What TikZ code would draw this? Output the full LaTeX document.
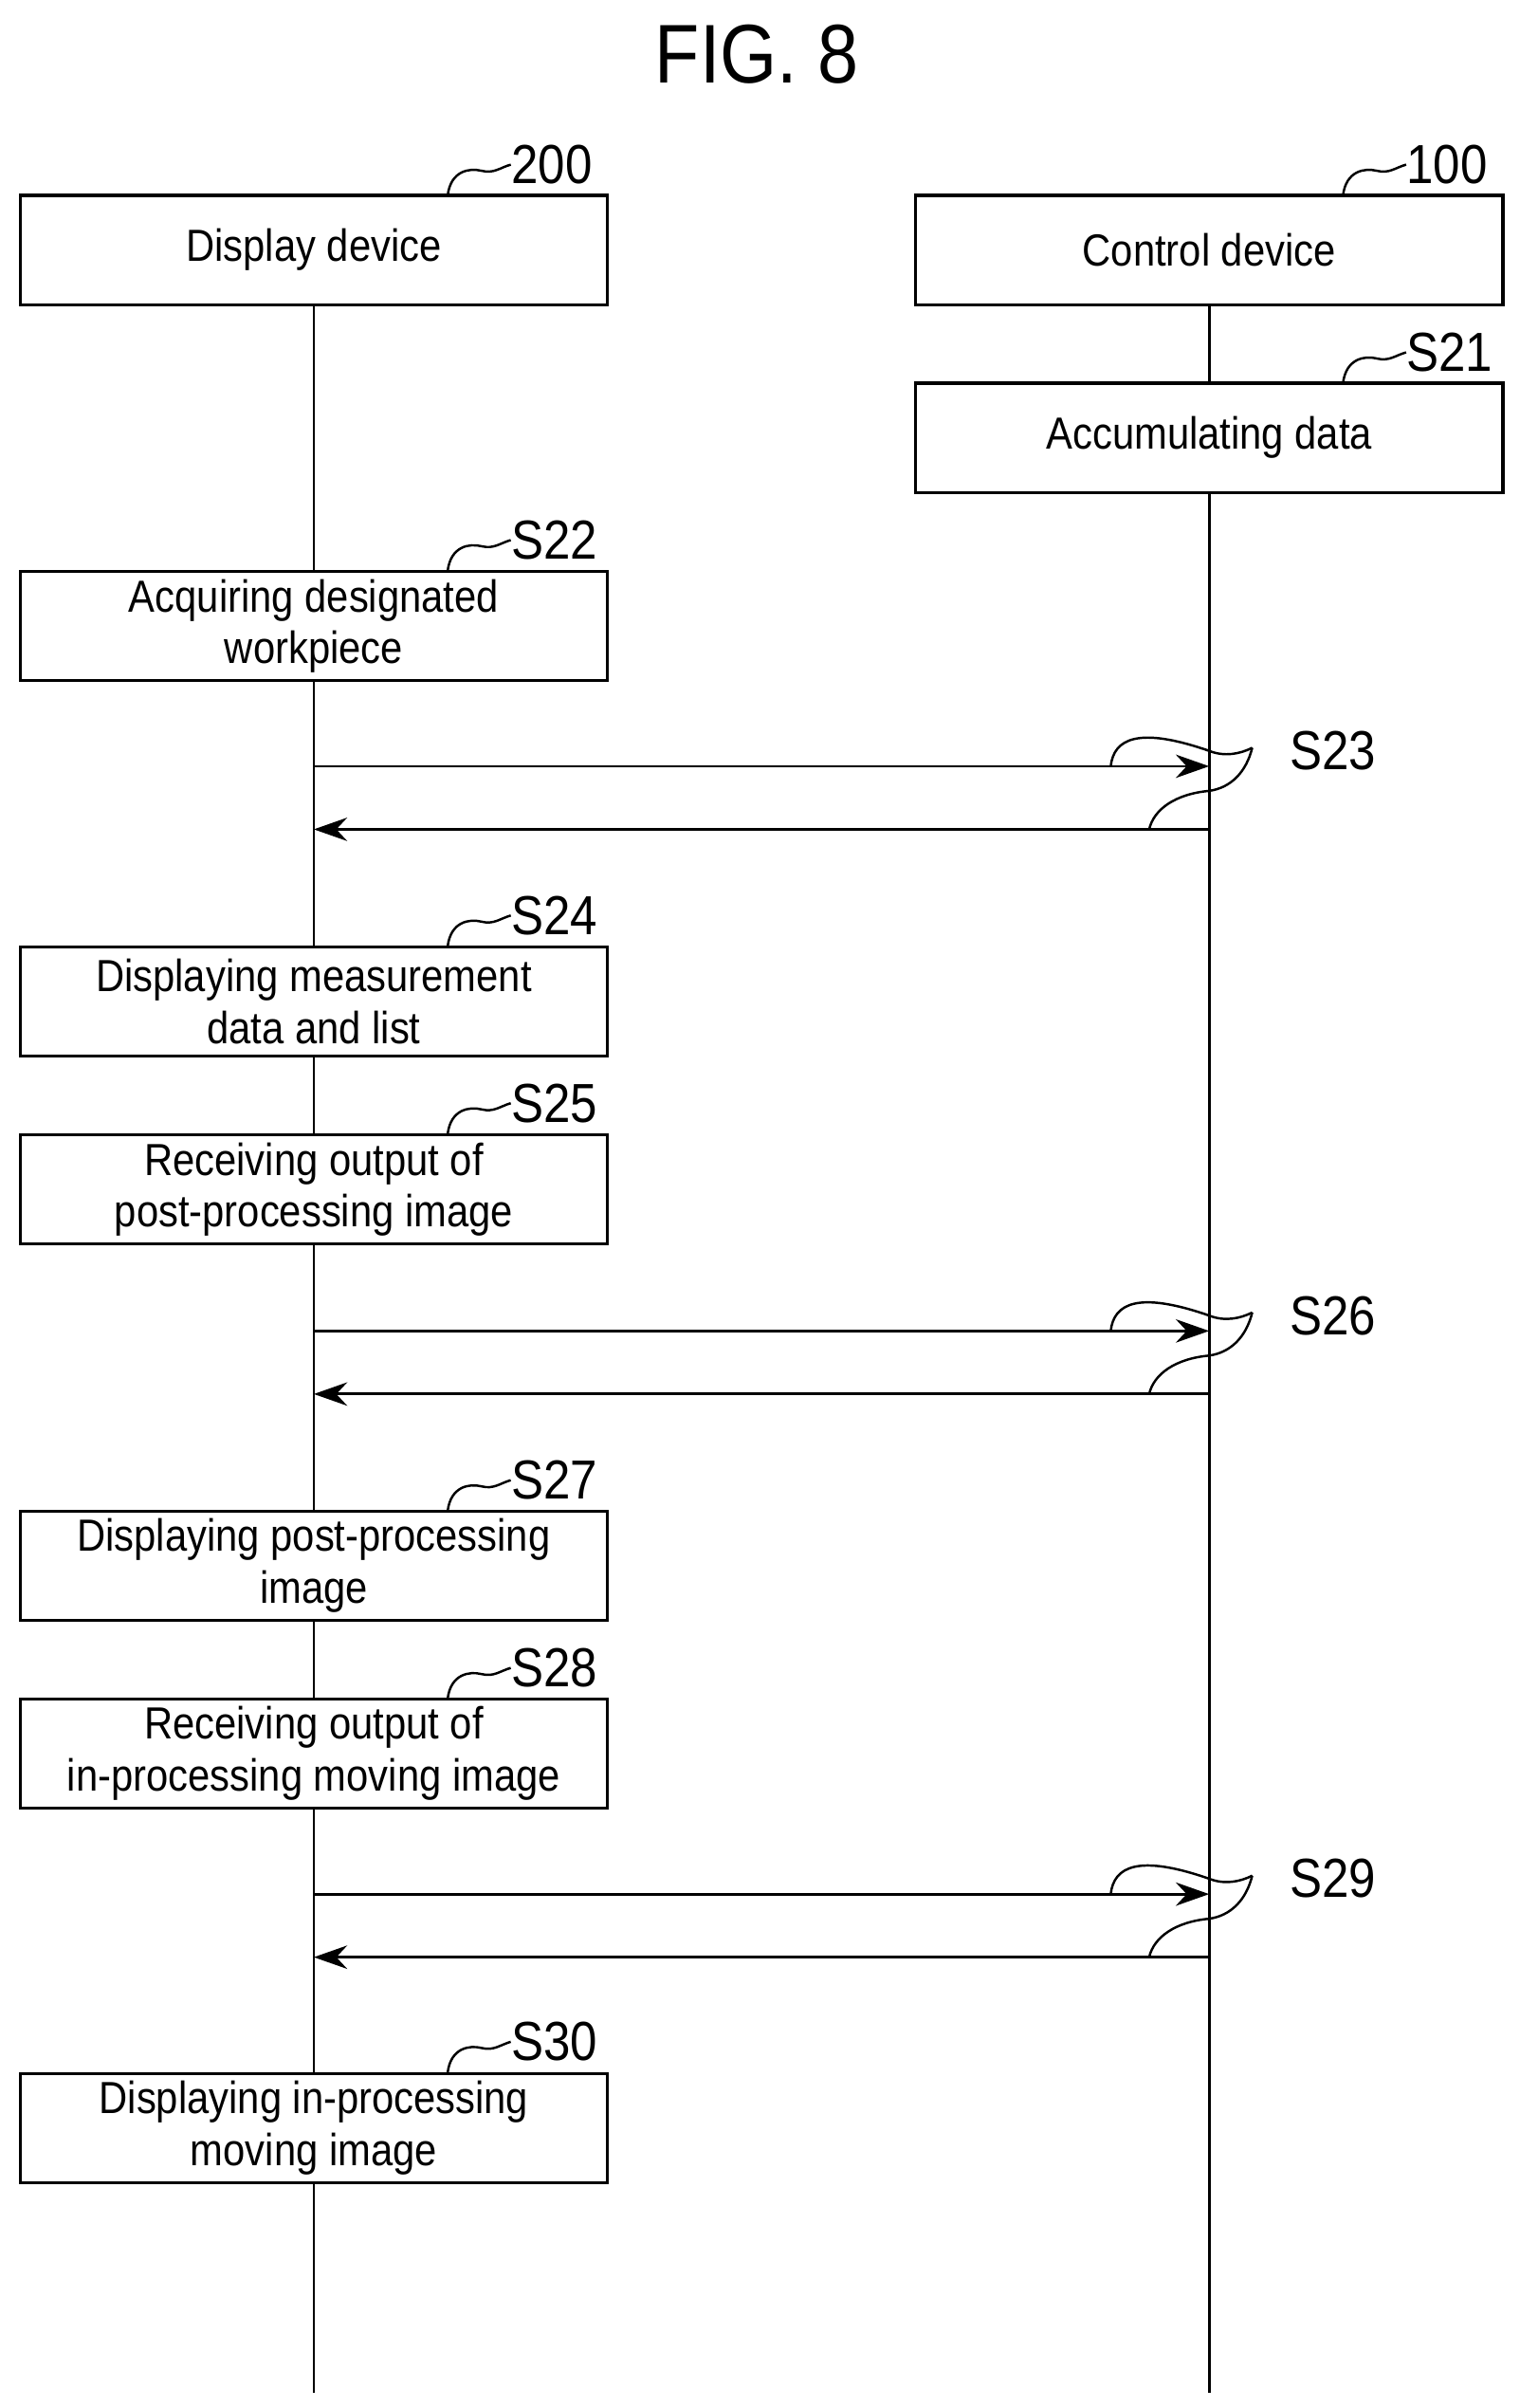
\documentclass[tikz,border=0pt]{standalone}
\usepackage{fontspec}
\setmainfont{Liberation Sans}[FakeStretch=0.88]
\usetikzlibrary{arrows.meta}
\begin{document}
\begin{tikzpicture}[x=0.1622mm,y=-0.1622mm,
  box/.style={draw,line width=0.9pt,minimum width=382*0.1622mm,minimum height=71*0.1622mm,inner sep=0pt,align=center,font=\fontsize{13.5}{15.5}\selectfont},
  lbl/.style={anchor=west,inner sep=0pt,font=\fontsize{16.5}{18}\selectfont},
  life/.style={line width=0.8pt},
  msg/.style={line width=0.8pt,-{Stealth[length=10pt,width=7pt]}},
  lead/.style={line width=0.7pt}]
\useasboundingbox (0,0) rectangle (988,1565);
\node[font=\fontsize{25}{28}\selectfont] (title) at (492,35) {FIG. 8};
\node[box] (dd) at (204,162.5) {Display device};
\node[box] (cd) at (786,162.5) {Control device};
\node[box] (s21) at (786,284.5) {Accumulating data};
\node[box] (s22) at (204,407) {Acquiring designated\\workpiece};
\node[box] (s24) at (204,651) {Displaying measurement\\data and list};
\node[box] (s25) at (204,773) {Receiving output of\\post-processing image};
\node[box] (s27) at (204,1017.5) {Displaying post-processing\\image};
\node[box] (s28) at (204,1139.5) {Receiving output of\\in-processing moving image};
\node[box] (s30) at (204,1383) {Displaying in-processing\\moving image};
\coordinate (lend) at (204,1555);
\coordinate (rend) at (786,1555);
% lifelines
\draw[life] (dd.south) -- (s22.north);
\draw[life] (s22.south) -- (s24.north);
\draw[life] (s24.south) -- (s25.north);
\draw[life] (s25.south) -- (s27.north);
\draw[life] (s27.south) -- (s28.north);
\draw[life] (s28.south) -- (s30.north);
\draw[life] (s30.south) -- (lend);
\draw[life] (cd.south) -- (s21.north);
\draw[life] (s21.south) -- (rend);
% labels with leaders
\foreach \n/\t/\x/\y in {dd/200/291/127, cd/100/873/127, s21/S21/873/249, s22/S22/291/371, s24/S24/291/615, s25/S25/291/737, s27/S27/291/982, s28/S28/291/1104, s30/S30/291/1347}{
  \node[lbl] (l\n) at (\x+41,\y-20) {\t};
  \draw[lead] (\x,\y) .. controls (\x+2,\y-16) and (\x+14,\y-18) .. (\x+22,\y-16) .. controls (\x+30,\y-14) and (\x+34,\y-18) .. (l\n.west);
}
% messages
\foreach \y/\s in {498/S23, 865/S26, 1231/S29}{
  \coordinate (a\s) at (204,\y);
  \coordinate (b\s) at (786,\y);
  \coordinate (c\s) at (786,\y+41);
  \coordinate (d\s) at (204,\y+41);
  \draw[msg] (a\s) -- (b\s);
  \draw[msg] (c\s) -- (d\s);
  \node[lbl] (t\s) at (838,\y-10) {\s};
  \coordinate (p\s) at (814,\y-12);
  \draw[lead] (722,\y) .. controls (724,\y-18) and (740,\y-26) .. (786,\y-10) .. controls (796,\y-6) and (806,\y-8) .. (p\s);
  \draw[lead] (747,\y+41) .. controls (750,\y+28) and (764,\y+18) .. (786,\y+16) .. controls (800,\y+14) and (810,\y+4) .. (p\s);
}
\end{tikzpicture}
\end{document}
